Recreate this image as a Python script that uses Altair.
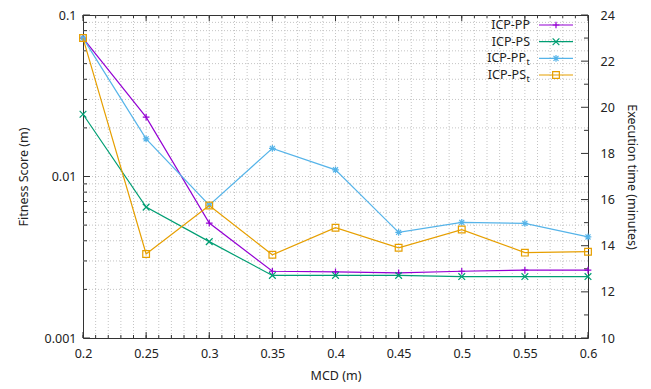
import altair as alt
import pandas as pd

# ---- data ----
mcd = [0.2, 0.25, 0.3, 0.35, 0.4, 0.45, 0.5, 0.55, 0.6]
icp_pp = [0.072, 0.0233, 0.00515, 0.00259, 0.00257, 0.00253, 0.00259, 0.00263, 0.00263]
icp_ps = [0.0243, 0.00646, 0.00395, 0.00244, 0.00244, 0.00244, 0.0024, 0.0024, 0.0024]
icp_pp_t = [23.0, 18.63, 15.76, 18.22, 17.29, 14.58, 15.01, 14.97, 14.38]
icp_ps_t = [23.0, 13.64, 15.74, 13.61, 14.78, 13.91, 14.70, 13.70, 13.74]

x_major = [0.2, 0.25, 0.3, 0.35, 0.4, 0.45, 0.5, 0.55, 0.6]
x_minor = [round(0.2 + 0.01 * i, 2) for i in range(41)]
y_major = [0.001, 0.01, 0.1]
y_minor = [m * d for d in (0.001, 0.01) for m in range(2, 10)]
y2_major = [10, 12, 14, 16, 18, 20, 22, 24]
y2_minor = [11, 13, 15, 17, 19, 21, 23]

legend_labels = ["ICP-PP", "ICP-PS", "ICP-PP", "ICP-PS"]
legend_subs = ["", "", "t", "t"]

W, H = 505, 323
FONT = "Noto Sans"
FS = 12.5
colors = ["#9400D3", "#009E73", "#56B4E9", "#E69F00"]
shapes = [
    "M-1,0L1,0M0,-1L0,1",
    "M-1,-1L1,1M-1,1L1,-1",
    "M-1,0L1,0M0,-1L0,1M-0.75,-0.75L0.75,0.75M-0.75,0.75L0.75,-0.75",
    "M-1,-1L1,-1L1,1L-1,1Z",
]

xs = alt.Scale(domain=[0.2, 0.6], nice=False, zero=False)
ys = alt.Scale(type="log", domain=[0.001, 0.1], nice=False)
y2s = alt.Scale(domain=[10, 24], nice=False, zero=False)

df = pd.DataFrame({"mcd": mcd, "pp": icp_pp, "ps": icp_ps, "ppt": icp_pp_t, "pst": icp_ps_t})

common_axis = dict(labelFontSize=FS, titleFontSize=FS, ticks=False, domain=False, grid=False,
                   labelFlush=False, labelColor="#222", titleColor="#222",
                   titleFontWeight="normal", labelFont=FONT, titleFont=FONT)
x_axis = alt.Axis(values=x_major, title="MCD (m)", format="~g", labelPadding=9, titlePadding=10, **common_axis)
y_axis = alt.Axis(values=y_major, title="Fitness Score (m)", orient="left",
                  labelExpr="datum.value == 0.1 ? '0.1' : datum.value == 0.01 ? '0.01' : '0.001'",
                  labelPadding=7, titlePadding=14, **common_axis)
y2_axis = alt.Axis(values=y2_major, title="Execution time (minutes)", orient="right",
                   labelPadding=12, titlePadding=10, **common_axis)

def X(field):
    return alt.X(f"{field}:Q", scale=xs, axis=x_axis, title="MCD (m)")

grid_style = dict(color="#c4c4c4", strokeDash=[1, 2], strokeWidth=1)

layers = []

# grids
layers.append(alt.Chart(pd.DataFrame({"v": x_minor[1:-1]})).mark_rule(**grid_style).encode(
    x=X("v"), y=alt.value(0), y2=alt.value(H)))
layers.append(alt.Chart(pd.DataFrame({"v": y_minor + [0.01]})).mark_rule(**grid_style).encode(
    y=alt.Y("v:Q", scale=ys, axis=None), x=alt.value(0), x2=alt.value(W)))

tick_col = "#333333"
def xticks(vals, size):
    d = pd.DataFrame({"v": vals})
    b = alt.Chart(d).mark_rule(color=tick_col, strokeWidth=1).encode(
        x=X("v"), y=alt.value(H), y2=alt.value(H - size))
    t = alt.Chart(d).mark_rule(color=tick_col, strokeWidth=1).encode(
        x=X("v"), y=alt.value(0), y2=alt.value(size))
    return [b, t]

def yticks(vals, size, scale, x0, x1):
    d = pd.DataFrame({"v": vals})
    return [alt.Chart(d).mark_rule(color=tick_col, strokeWidth=1).encode(
        y=alt.Y("v:Q", scale=scale, axis=None), x=alt.value(x0), x2=alt.value(x1))]

layers += xticks(x_minor, 3) + xticks(x_major, 6)
layers += yticks(y_minor, 4, ys, 0, 4) + yticks(y_major, 7, ys, 0, 7)
layers += yticks(y2_minor, 4, y2s, W, W - 4) + yticks(y2_major, 7, y2s, W, W - 7)

base = alt.Chart(df)

def series(field, scale, color, shape, yaxis=None):
    ln = base.mark_line(color=color, strokeWidth=1.2).encode(
        x=X("mcd"),
        y=alt.Y(f"{field}:Q", scale=scale, axis=yaxis))
    pt = base.mark_point(shape=shape, color=color, filled=False, size=45, strokeWidth=1.2, opacity=1).encode(
        x=X("mcd"),
        y=alt.Y(f"{field}:Q", scale=scale, axis=None))
    return [ln, pt]

layers += series("pp", ys, colors[0], shapes[0], yaxis=y_axis)
layers += series("ps", ys, colors[1], shapes[1])
layers += series("ppt", y2s, colors[2], shapes[2], yaxis=y2_axis)
layers += series("pst", y2s, colors[3], shapes[3])

# legend (top right, inside)
one = pd.DataFrame({"a": [0]})
row_y = [10, 26.7, 43.4, 60]
for i in range(4):
    yv = row_y[i]
    main_x = 447 if legend_subs[i] == "" else 443
    layers.append(alt.Chart(pd.DataFrame({"t": [legend_labels[i]]})).mark_text(
        align="right", baseline="middle", font=FONT, fontSize=FS, color="#222").encode(
        text="t:N", x=alt.value(main_x), y=alt.value(yv)))
    if legend_subs[i]:
        layers.append(alt.Chart(pd.DataFrame({"t": [legend_subs[i]]})).mark_text(
            align="left", baseline="middle", font=FONT, fontSize=9, color="#222").encode(
            text="t:N", x=alt.value(main_x + 0.5), y=alt.value(yv + 4)))
    layers.append(alt.Chart(one).mark_rule(color=colors[i], strokeWidth=1.2).encode(
        x=alt.value(456), x2=alt.value(490), y=alt.value(yv)))
    layers.append(alt.Chart(one).mark_point(shape=shapes[i], color=colors[i], filled=False,
                                            size=45, strokeWidth=1.2, opacity=1).encode(
        x=alt.value(473), y=alt.value(yv)))

chart = alt.layer(*layers).resolve_scale(y="independent").properties(
    width=W, height=H, autosize="none",
    padding={"left": 75, "top": 7, "right": 55, "bottom": 50},
    background="white",
).configure(font=FONT).configure_view(stroke="#333333", strokeWidth=1)

chart.save("out.html", embed_options={"renderer": "svg", "actions": False})
